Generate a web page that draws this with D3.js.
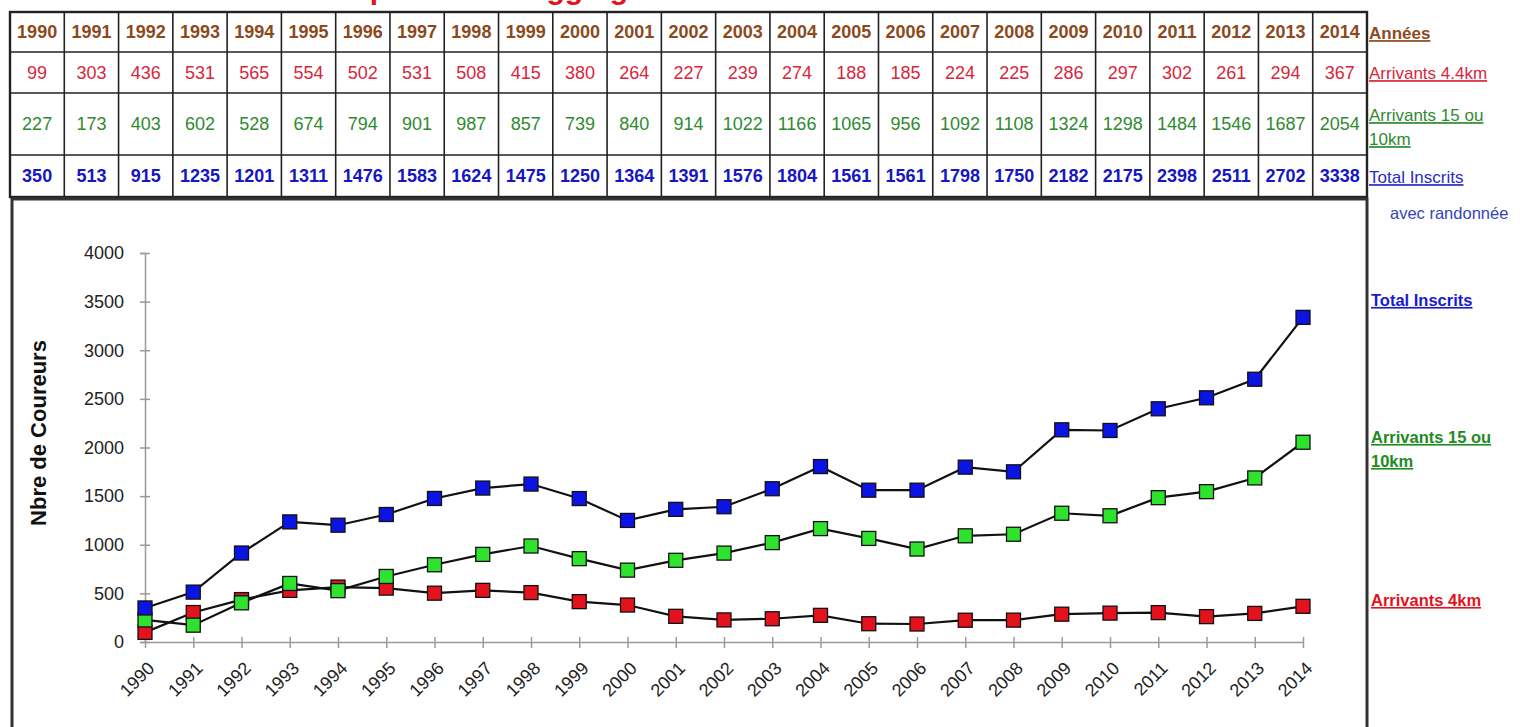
<!DOCTYPE html>
<html>
<head>
<meta charset="utf-8">
<script src="https://cdn.jsdelivr.net/npm/d3@7"></script>
<style>
  body { margin: 0; background: #fff; }
  svg { display: block; font-family: "Liberation Sans", Arial, sans-serif; }
</style>
</head>
<body>
<div id="chart"></div>
<script>
// data
var years = [1990,1991,1992,1993,1994,1995,1996,1997,1998,1999,2000,2001,2002,2003,2004,2005,2006,2007,2008,2009,2010,2011,2012,2013,2014];
var arrivants4 = [99,303,436,531,565,554,502,531,508,415,380,264,227,239,274,188,185,224,225,286,297,302,261,294,367];
var arrivants15 = [227,173,403,602,528,674,794,901,987,857,739,840,914,1022,1166,1065,956,1092,1108,1324,1298,1484,1546,1687,2054];
var totalInscrits = [350,513,915,1235,1201,1311,1476,1583,1624,1475,1250,1364,1391,1576,1804,1561,1561,1798,1750,2182,2175,2398,2511,2702,3338];
var yTicks = [0,500,1000,1500,2000,2500,3000,3500,4000];

var W = 1523, H = 727;

var svg = d3.select("#chart").append("svg")
    .attr("width", W)
    .attr("height", H);

// title (mostly above the visible area, as in the source image)
svg.append("text")
    .attr("x", 278).attr("y", -1)
    .attr("fill", "#e3141c")
    .style("font-size", "30px").style("font-weight", "bold")
    .text("Participation au Jogging");

// ---- table ----
var colX = d3.scaleBand().domain(years).range([10, 1367]);
var rowTop = [12, 52, 93, 155];
var rowBot = [52, 93, 155, 197];
var rows = [
  { vals: years, color: "#8c4a1c", bold: true },
  { vals: arrivants4, color: "#d9263a", bold: false },
  { vals: arrivants15, color: "#2f8a2f", bold: false },
  { vals: totalInscrits, color: "#1616c4", bold: true }
];

var table = svg.append("g");
rows.forEach(function (r, i) {
  table.selectAll(null)
    .data(years)
    .enter().append("text")
    .attr("x", function (d) { return colX(d) + colX.bandwidth() / 2; })
    .attr("y", (rowTop[i] + rowBot[i]) / 2)
    .attr("dy", "0.36em")
    .attr("text-anchor", "middle")
    .attr("fill", r.color)
    .style("font-size", "18px")
    .style("font-weight", r.bold ? "bold" : "normal")
    .text(function (d, j) { return r.vals[j]; });
});

// grid lines
table.selectAll(null)
  .data(years.slice(1))
  .enter().append("line")
  .attr("x1", function (d) { return colX(d); })
  .attr("x2", function (d) { return colX(d); })
  .attr("y1", 12).attr("y2", 197)
  .attr("stroke", "#222").attr("stroke-width", 1.6);
table.selectAll(null)
  .data(rowBot.slice(0, 3))
  .enter().append("line")
  .attr("x1", 10).attr("x2", 1367)
  .attr("y1", function (d) { return d; })
  .attr("y2", function (d) { return d; })
  .attr("stroke", "#222").attr("stroke-width", 1.6);
table.append("rect")
  .attr("x", 10).attr("y", 12)
  .attr("width", 1357).attr("height", 185)
  .attr("fill", "none").attr("stroke", "#222").attr("stroke-width", 2.4);

// labels right of table
var tabLabels = [
  { t: "Années", y: 33, c: "#8c4a1c", b: true },
  { t: "Arrivants 4.4km", y: 73, c: "#d9263a", b: false },
  { t: "Arrivants 15 ou ", y: 115, c: "#2f8a2f", b: false },
  { t: "10km", y: 139, c: "#2f8a2f", b: false },
  { t: "Total Inscrits", y: 177, c: "#2a2ac8", b: false }
];
svg.selectAll(null)
  .data(tabLabels)
  .enter().append("text")
  .attr("x", 1369).attr("y", function (d) { return d.y; })
  .attr("dy", "0.36em")
  .attr("fill", function (d) { return d.c; })
  .style("font-size", "17px")
  .style("font-weight", function (d) { return d.b ? "bold" : "normal"; })
  .style("text-decoration", "underline")
  .text(function (d) { return d.t; });

svg.append("text")
  .attr("x", 1390).attr("y", 213).attr("dy", "0.36em")
  .attr("fill", "#3445b8")
  .style("font-size", "16.5px")
  .text("avec randonnée");

// ---- chart box ----
svg.append("rect")
  .attr("x", 12).attr("y", 199)
  .attr("width", 1355).attr("height", 560)
  .attr("fill", "none").attr("stroke", "#333").attr("stroke-width", 3);

var x = d3.scalePoint().domain(years).range([145, 1303]);
var y = d3.scaleLinear().domain([0, 4000]).range([642, 253]);

// y axis
var yAx = svg.append("g").attr("transform", "translate(145,0)")
  .call(d3.axisLeft(y).tickValues(yTicks).tickSize(5).tickPadding(16).tickFormat(d3.format("d")));
svg.append("g").attr("transform", "translate(145,0)")
  .call(d3.axisRight(y).tickValues(yTicks).tickSize(5).tickFormat(""))
  .select(".domain").remove();

// x axis
var xAx = svg.append("g").attr("transform", "translate(0,642)")
  .call(d3.axisBottom(x).tickSize(6).tickSizeOuter(0).tickFormat(""));
svg.append("g").attr("transform", "translate(0,642)")
  .call(d3.axisTop(x).tickSize(5).tickFormat(""))
  .select(".domain").remove();

svg.selectAll(".domain, .tick line").attr("stroke", "#9a9a9a").attr("stroke-width", 1.5);
yAx.selectAll(".tick text").attr("fill", "#222").style("font-size", "18px");

svg.append("g").selectAll("text")
  .data(years)
  .enter().append("text")
  .attr("transform", function (d) { return "translate(" + (x(d) + 6) + ",665) rotate(-45)"; })
  .attr("text-anchor", "end")
  .attr("dy", "0.35em")
  .attr("fill", "#222")
  .style("font-size", "18px")
  .text(function (d) { return d; });

svg.append("text")
  .attr("transform", "translate(38,433) rotate(-90)")
  .attr("text-anchor", "middle")
  .attr("dy", "0.36em")
  .attr("fill", "#111")
  .style("font-size", "22px").style("font-weight", "bold")
  .text("Nbre de Coureurs");

// ---- series ----
var series = [
  { vals: arrivants4, fill: "#e3121c" },
  { vals: arrivants15, fill: "#2ee22e" },
  { vals: totalInscrits, fill: "#0c14e4" }
];
var line = d3.line()
  .x(function (d, i) { return x(years[i]); })
  .y(function (d) { return y(d); });

series.forEach(function (s) {
  svg.append("path")
    .datum(s.vals)
    .attr("fill", "none")
    .attr("stroke", "#111")
    .attr("stroke-width", 2.2)
    .attr("d", line);
});
series.forEach(function (s) {
  svg.append("g").selectAll("rect")
    .data(s.vals)
    .enter().append("rect")
    .attr("x", function (d, i) { return x(years[i]) - 7; })
    .attr("y", function (d) { return y(d) - 7; })
    .attr("width", 14).attr("height", 14)
    .attr("fill", s.fill)
    .attr("stroke", "#111").attr("stroke-width", 1.3);
});

// labels right of chart
var serLabels = [
  { t: "Total Inscrits", y: 300, c: "#1a1ad0" },
  { t: "Arrivants 15 ou ", y: 437, c: "#228a22" },
  { t: "10km", y: 461, c: "#228a22" },
  { t: "Arrivants 4km", y: 600, c: "#e0141e" }
];
svg.selectAll(null)
  .data(serLabels)
  .enter().append("text")
  .attr("x", 1371).attr("y", function (d) { return d.y; })
  .attr("dy", "0.36em")
  .attr("fill", function (d) { return d.c; })
  .style("font-size", "16.5px").style("font-weight", "bold")
  .style("text-decoration", "underline")
  .text(function (d) { return d.t; });
</script>
</body>
</html>
